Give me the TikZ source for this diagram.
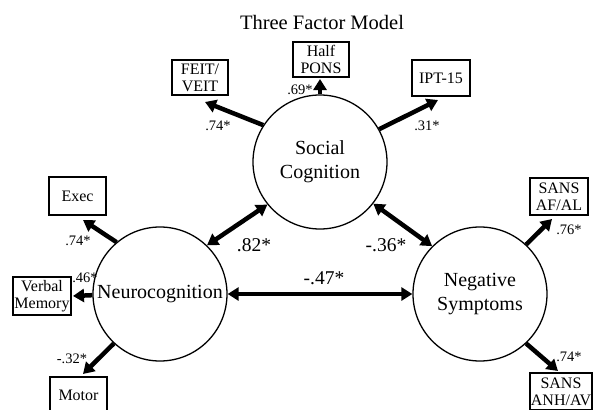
\documentclass[tikz,border=0pt]{standalone}
\usepackage{fontspec}
\setmainfont{Liberation Serif}
\usetikzlibrary{arrows.meta}
\begin{document}
\begin{tikzpicture}[x=1pt,y=-1pt,
 factor/.style={circle,draw,line width=1.3pt,minimum size=134pt,inner sep=0pt,align=center,font=\fontsize{20}{24}\selectfont},
 indicator/.style={draw,line width=1.3pt,minimum width=57pt,minimum height=36pt,inner sep=1pt,align=center,font=\fontsize{16}{17}\selectfont},
 load/.style={line width=4.5pt,-{Triangle[length=11pt,width=13pt]}},
 corr/.style={line width=4.5pt,{Triangle[length=11pt,width=13pt]}-{Triangle[length=11pt,width=13pt]}},
 small/.style={font=\fontsize{14.5}{16}\selectfont,inner sep=0pt},
 big/.style={font=\fontsize{19.5}{22}\selectfont,inner sep=0pt}]
\useasboundingbox (0,0) rectangle (598,410);
\node[inner sep=0pt,font=\fontsize{20.5}{24}\selectfont] (title) at (322,22) {Three Factor Model};

% factors
\node[factor] (sc) at (320,162) {Social\\Cognition};
\node[factor] (nc) at (160,294) {Neurocognition};
\node[factor] (ng) at (480,294) {Negative\\Symptoms};

% indicators
\node[indicator,minimum width=56pt,minimum height=35pt] (feit) at (200,77.5) {FEIT/\\VEIT};
\node[indicator,minimum width=56pt,minimum height=35pt] (pons) at (321,59.5) {Half\\PONS};
\node[indicator,minimum width=58pt] (ipt) at (441,78) {IPT-15};
\node[indicator,minimum height=38pt] (exec) at (77.5,196) {Exec};
\node[indicator,minimum width=58pt,minimum height=38pt] (verb) at (42,296) {Verbal\\Memory};
\node[indicator] (motor) at (78.5,395) {Motor};
\node[indicator,minimum width=58pt,minimum height=37pt] (afal) at (559,196.5) {SANS\\AF/AL};
\node[indicator,minimum width=60pt,minimum height=37pt] (anh) at (561,391.5) {SANS\\ANH/AV};

% arrow end points near the indicators
\coordinate (feitE) at (205,102);
\coordinate (ponsE) at (320,79);
\coordinate (iptE) at (438,100);
\coordinate (execE) at (83,220);
\coordinate (verbE) at (73,296);
\coordinate (motorE) at (83,374);
\coordinate (afalE) at (552,219);
\coordinate (anhE) at (558,371);

% loadings
\draw[load] (sc.147) -- (feitE);
\draw[load] (sc.90) -- (ponsE);
\draw[load] (sc.29) -- (iptE);
\draw[load] (nc.130) -- (execE);
\draw[load] (nc.181) -- (verbE);
\draw[load] (nc.227) -- (motorE);
\draw[load] (ng.47) -- (afalE);
\draw[load] (ng.313) -- (anhE);

% correlations
\draw[corr] (sc.219) -- (nc.46);
\draw[corr] (sc.322) -- (ng.135);
\draw[corr] (nc.east) -- (ng.west);

% labels
\node[small] (l1) at (218,126) {.74*};
\node[small] (l2) at (300,90) {.69*};
\node[small] (l3) at (427,126) {.31*};
\node[small] (l4) at (78,241) {.74*};
\node[small] (l5) at (85,278) {.46*};
\node[small] (l6) at (72,359) {-.32*};
\node[small] (l7) at (569,230) {.76*};
\node[small] (l8) at (569,357) {.74*};
\node[big] (l9) at (254,245) {.82*};
\node[big] (l10) at (386,245) {-.36*};
\node[big] (l11) at (324,278) {-.47*};
\end{tikzpicture}
\end{document}
